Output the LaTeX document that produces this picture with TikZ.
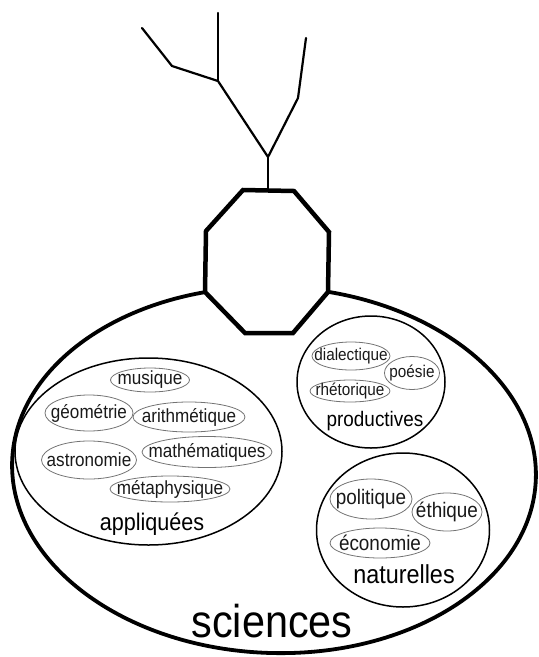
\documentclass[tikz,border=0pt]{standalone}
\usepackage{fontspec}
\setmainfont{Liberation Sans}[FakeStretch=0.9]
\usetikzlibrary{shapes.geometric}
\tikzset{
  cat/.style={draw, ellipse, line width=1.5pt, inner sep=0pt},
  itembox/.style={draw=black!55, ellipse, line width=0.8pt, inner sep=0pt},
  labA/.style={inner sep=0pt, font=\fontsize{19}{19}\selectfont, text=black!90},
  labP/.style={labA, font=\fontsize{17}{17}\selectfont},
  labN/.style={labA, font=\fontsize{21}{21}\selectfont},
  branch/.style={line width=2.2pt, line join=round, line cap=round},
}
\begin{document}
\begin{tikzpicture}[x=1pt,y=-1pt]
\useasboundingbox (0,0) rectangle (539,657);
% big ellipse
\node[draw, ellipse, line width=3.8pt, minimum width=524pt, minimum height=366pt, inner sep=0pt, rotate=-2] (sci) at (274,470) {};
% octagon
\coordinate (o1) at (243,190);
\coordinate (o2) at (294,191);
\coordinate (o3) at (329,232);
\coordinate (o4) at (328,292);
\coordinate (o5) at (293,333);
\coordinate (o6) at (245,333);
\coordinate (o7) at (205,292);
\coordinate (o8) at (206,231);
\coordinate (otop) at (268,190);
\draw[line width=4.5pt, fill=white, line join=miter] (o1) -- (o2) -- (o3) -- (o4) -- (o5) -- (o6) -- (o7) -- (o8) -- cycle;
% tree
\coordinate (t1) at (142,28);
\coordinate (t2) at (172,66);
\coordinate (j1) at (218,81);
\coordinate (t3) at (218,13);
\coordinate (fork) at (268,157);
\coordinate (r1) at (298,98);
\coordinate (r2) at (306,38);
\draw[branch] (t1) -- (t2) -- (j1) -- (fork) -- (r1) -- (r2);
\draw[branch] (t3) -- (j1);
\draw[branch] (fork) -- (otop);
% category ellipses
\node[cat, minimum width=267pt, minimum height=187pt] (app) at (148.5,451.5) {};
\node[cat, minimum width=148pt, minimum height=132pt] (prod) at (371,382) {};
\node[cat, minimum width=173pt, minimum height=154pt] (nat) at (403,530) {};
% category labels
\node[anchor=base, font=\fontsize{24}{24}\selectfont] (lapp) at (152,530) {appliquées};
\node[anchor=base, font=\fontsize{21}{21}\selectfont] (lprod) at (375,426) {productives};
\node[anchor=base, font=\fontsize{26}{26}\selectfont] (lnat) at (404,583) {naturelles};
\node[anchor=base, font=\fontsize{46}{46}\selectfont] (lsci) at (272,637) {sciences};
% appliquees items
\node[itembox, minimum width=79pt, minimum height=24pt, label={[labA]center:musique}] (musique) at (150,380) {};
\node[itembox, minimum width=88pt, minimum height=36pt, label={[labA]center:géométrie}] (geometrie) at (89,413) {};
\node[itembox, minimum width=112pt, minimum height=30pt, label={[labA]center:arithmétique}] (arith) at (189,417) {};
\node[itembox, minimum width=95pt, minimum height=38pt, label={[labA]center:astronomie}] (astro) at (89,460) {};
\node[itembox, minimum width=130pt, minimum height=31pt, label={[labA]center:mathématiques}] (math) at (207,452) {};
\node[itembox, minimum width=120pt, minimum height=26pt, label={[labA]center:métaphysique}] (meta) at (170,489) {};
% productives items
\node[itembox, minimum width=78pt, minimum height=28pt, label={[labP]center:dialectique}] (dial) at (351,356) {};
\node[itembox, minimum width=55pt, minimum height=33pt, label={[labP]center:poésie}] (poesie) at (412,373) {};
\node[itembox, minimum width=80pt, minimum height=22pt, label={[labP]center:rhétorique}] (rhet) at (350,391) {};
% naturelles items
\node[itembox, minimum width=82pt, minimum height=40pt, label={[labN]center:politique}] (poli) at (371,499) {};
\node[itembox, minimum width=70pt, minimum height=38pt, label={[labN]center:éthique}] (ethique) at (447,512) {};
\node[itembox, minimum width=100pt, minimum height=30pt, label={[labN]center:économie}] (eco) at (380,543) {};
\end{tikzpicture}
\end{document}
